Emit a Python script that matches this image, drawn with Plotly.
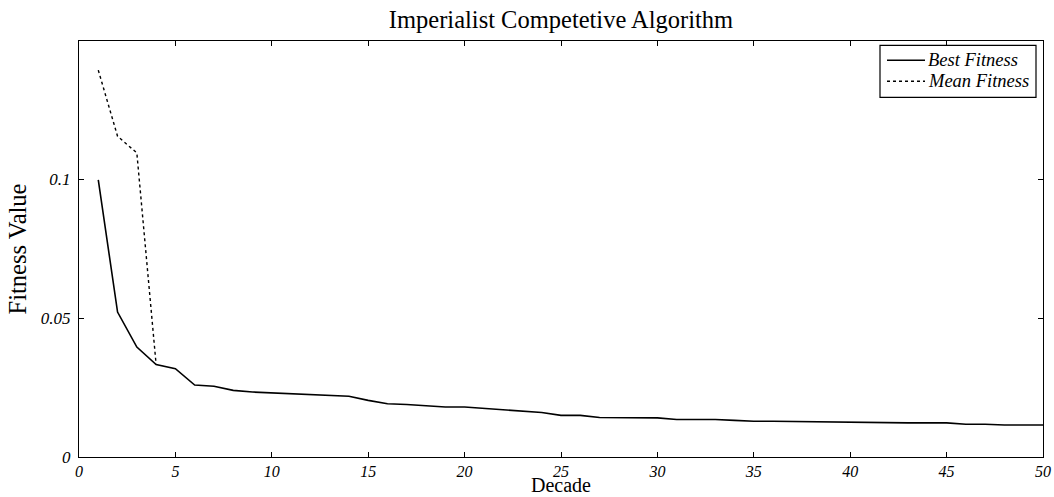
import plotly.graph_objects as go

decade = list(range(1, 51))
best_fitness = [0.0998, 0.0522, 0.0396, 0.0333, 0.0318, 0.0259, 0.0255, 0.0240, 0.0234, 0.0231,
                0.0228, 0.0226, 0.0222, 0.0219, 0.0204, 0.0192, 0.0189, 0.0185, 0.0180, 0.0180,
                0.0175, 0.0170, 0.0165, 0.0160, 0.0150, 0.0150, 0.0142, 0.0142, 0.0142, 0.0141,
                0.0135, 0.0135, 0.0135, 0.0132, 0.0129, 0.0129, 0.0128, 0.0126, 0.0125, 0.0125,
                0.0123, 0.0123, 0.0123, 0.0123, 0.0123, 0.0118, 0.0118, 0.0115, 0.0115, 0.0115]
mean_decade = [1, 2, 3, 4]
mean_fitness = [0.1393, 0.1155, 0.1095, 0.0333]

x_ticks = [0, 5, 10, 15, 20, 25, 30, 35, 40, 45, 50]
y_ticks = [0, 0.05, 0.1]
y_tick_labels = ["0", "0.05", "0.1"]

serif = "Liberation Serif, Times New Roman, serif"

# plot area in pixels (for layout of the hand-drawn legend box)
L, R, T, B = 79, 1043, 40.7, 456.7
W, H = R - L, B - T


def px(x):
    return (x - L) / W


def py(y):
    return (B - y) / H


fig = go.Figure()
fig.add_trace(go.Scatter(x=decade, y=best_fitness, mode="lines", name="Best Fitness",
                         line=dict(color="black", width=1.6), showlegend=False))
fig.add_trace(go.Scatter(x=mean_decade, y=mean_fitness, mode="lines", name="Mean Fitness",
                         line=dict(color="black", width=1.4, dash="dot"), showlegend=False))

names = ["Best Fitness", "Mean Fitness"]
dashes = ["solid", "dot"]
rows = [60, 81]
shapes = [dict(type="rect", xref="paper", yref="paper", x0=px(880), x1=px(1036), y0=py(45), y1=py(97),
               line=dict(color="black", width=1.2), fillcolor="white", layer="above")]
annotations = []
for name, dash, ry in zip(names, dashes, rows):
    shapes.append(dict(type="line", xref="paper", yref="paper", x0=px(887), x1=px(925), y0=py(ry), y1=py(ry),
                       line=dict(color="black", width=1.5, dash=dash), layer="above"))
    annotations.append(dict(text=name, xref="paper", yref="paper", x=px(926), y=py(ry),
                            xanchor="left", yanchor="middle", showarrow=False,
                            font=dict(family=serif, size=18.5, style="italic", color="black")))
annotations.append(dict(text="Decade", xref="paper", yref="paper", x=0.5, y=py(497),
                        xanchor="center", yanchor="bottom", showarrow=False, borderpad=0,
                        font=dict(family=serif, size=20, color="black")))

fig.update_layout(
    width=1054, height=497,
    margin=dict(l=79, r=11, t=41, b=40, autoexpand=False),
    paper_bgcolor="white", plot_bgcolor="white",
    title=dict(text="Imperialist Competetive Algorithm", x=0.5, xref="paper", xanchor="center",
               y=1 - 19 / 497, yanchor="middle", font=dict(family=serif, size=24.5, color="black")),
    font=dict(family=serif, color="black"),
    showlegend=False,
    shapes=shapes,
    annotations=annotations,
)
fig.update_xaxes(range=[0, 50], tickvals=x_ticks, ticks="inside", ticklen=5, tickcolor="black",
                 showline=True, linecolor="black", linewidth=1.2, mirror="ticks", showgrid=False,
                 zeroline=False, automargin=False,
                 tickfont=dict(family=serif, size=16, style="italic", color="black"))
fig.update_yaxes(range=[0, 0.1498], tickvals=y_ticks, ticktext=y_tick_labels, ticks="inside",
                 ticklen=5, tickcolor="black", ticklabelstandoff=4,
                 showline=True, linecolor="black", linewidth=1.2, mirror="ticks", showgrid=False,
                 zeroline=False, automargin=False,
                 tickfont=dict(family=serif, size=17, style="italic", color="black"),
                 title=dict(text="Fitness Value", font=dict(family=serif, size=24.5, color="black"), standoff=7))

fig.write_html("out.html")
